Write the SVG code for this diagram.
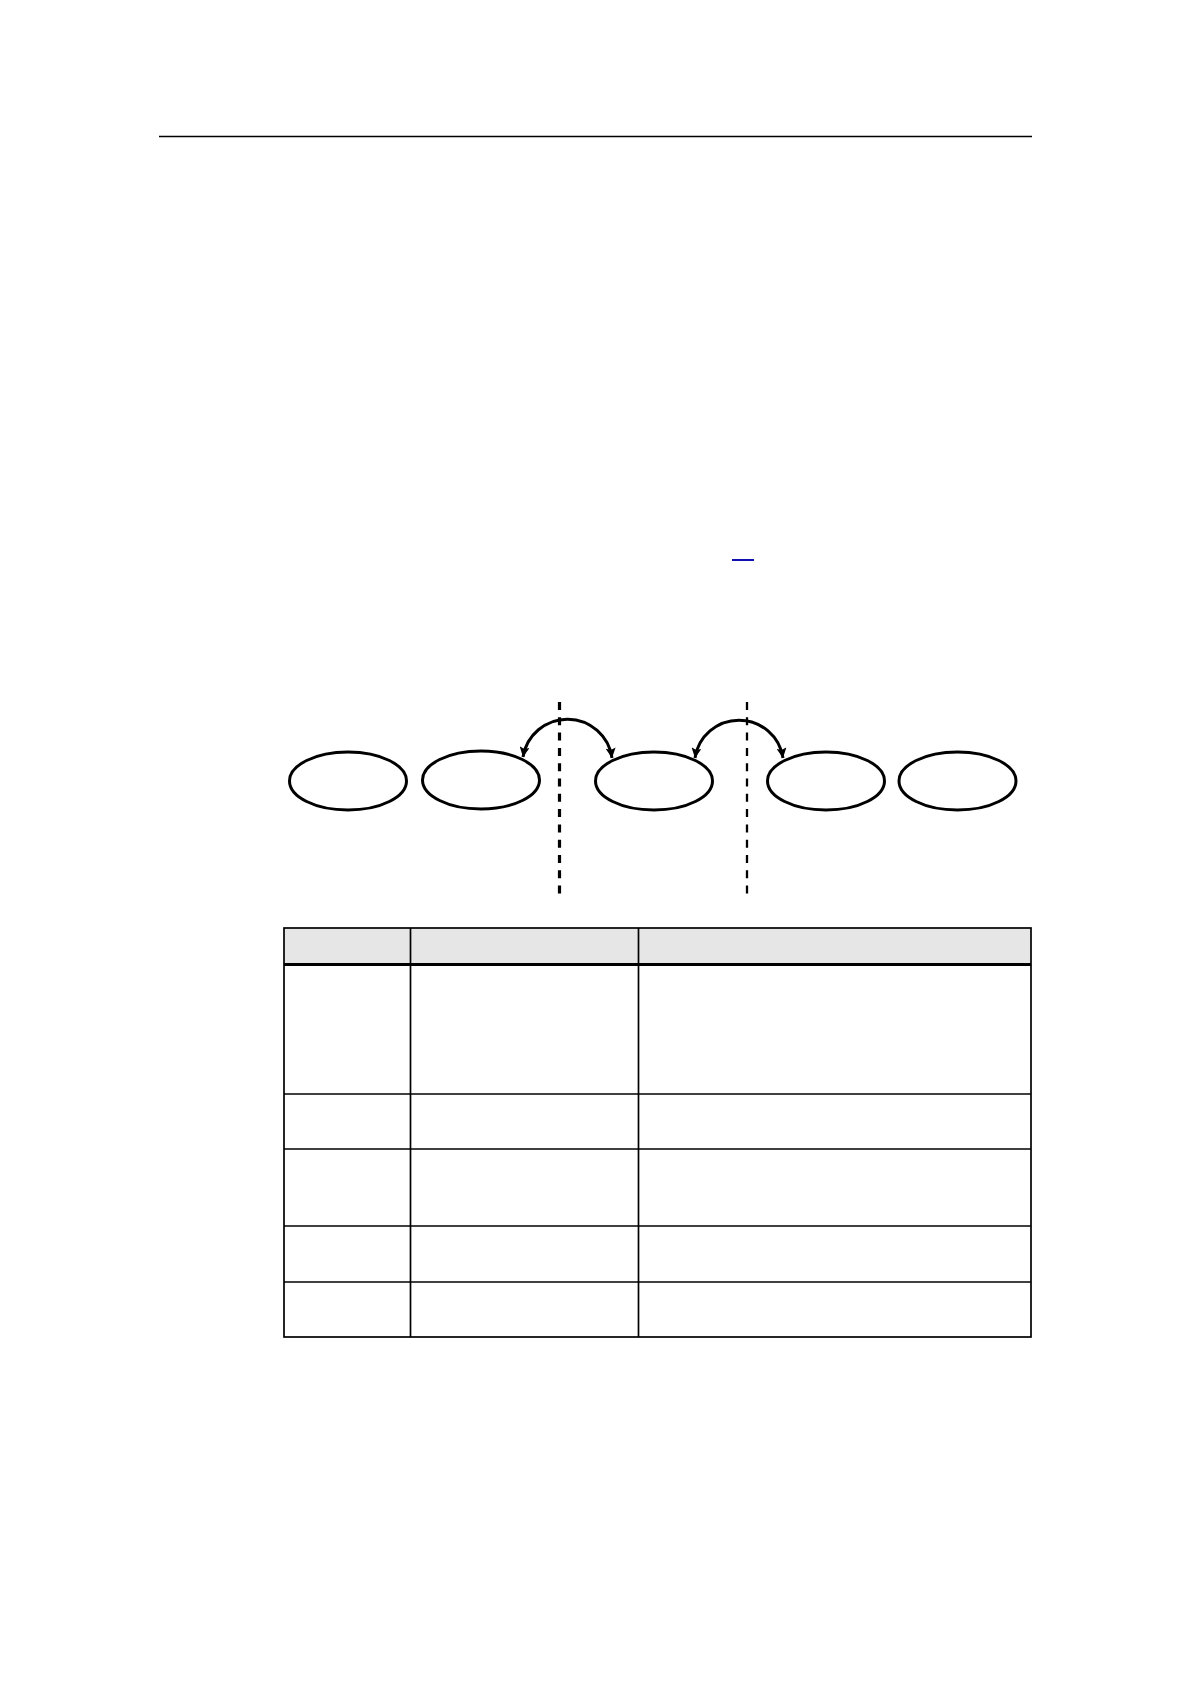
<svg xmlns="http://www.w3.org/2000/svg" width="1191" height="1684" viewBox="0 0 1191 1684">
<style>
.node{fill:#fff;stroke:#000;stroke-width:3}
.arc{fill:none;stroke:#000;stroke-width:3}
.grid{stroke:#000;stroke-width:1.7}
</style>
<defs>
<marker id="ah" viewBox="0 0 10 10" refX="10" refY="5" markerWidth="11" markerHeight="10" markerUnits="userSpaceOnUse" orient="auto-start-reverse">
<path d="M0,0 L10,5 L0,10 L2,5 Z" fill="#000"/>
</marker>
</defs>
<rect width="1191" height="1684" fill="#fff"/>
<line x1="159" y1="136.5" x2="1032" y2="136.5" stroke="#000" stroke-width="1.7"/>
<line x1="732" y1="560" x2="754" y2="560" stroke="#1010b0" stroke-width="2"/>
<g id="dividers">
<line x1="559.5" y1="702" x2="559.5" y2="896" stroke="#000" stroke-width="3.2" stroke-dasharray="8 7.3"/>
<line x1="747" y1="702" x2="747" y2="896" stroke="#000" stroke-width="2.3" stroke-dasharray="8 7.3"/>
</g>
<g id="node1"><ellipse class="node" cx="348" cy="781" rx="58.5" ry="29"/></g>
<g id="node2"><ellipse class="node" cx="481" cy="780" rx="58.5" ry="29"/></g>
<g id="node3"><ellipse class="node" cx="654" cy="781" rx="58.5" ry="29"/></g>
<g id="node4"><ellipse class="node" cx="826" cy="781" rx="58.5" ry="29"/></g>
<g id="node5"><ellipse class="node" cx="957.5" cy="781" rx="58.5" ry="29"/></g>
<g id="connectors">
<path class="arc" d="M523,757 A45,45 0 0 1 612,758" marker-start="url(#ah)" marker-end="url(#ah)"/>
<path class="arc" d="M695,758 A44.5,44.5 0 0 1 783,758" marker-start="url(#ah)" marker-end="url(#ah)"/>
</g>
<g id="table">
<rect x="284" y="928" width="747" height="36" fill="#e6e6e6"/>
<rect x="284" y="928" width="747" height="409" fill="none" class="grid"/>
<line class="grid" x1="410.5" y1="928" x2="410.5" y2="1337"/>
<line class="grid" x1="638.5" y1="928" x2="638.5" y2="1337"/>
<line x1="284" y1="964.5" x2="1031" y2="964.5" stroke="#000" stroke-width="3"/>
<line class="grid" x1="284" y1="1094" x2="1031" y2="1094"/>
<line class="grid" x1="284" y1="1149" x2="1031" y2="1149"/>
<line class="grid" x1="284" y1="1226" x2="1031" y2="1226"/>
<line class="grid" x1="284" y1="1282" x2="1031" y2="1282"/>
</g>
</svg>
